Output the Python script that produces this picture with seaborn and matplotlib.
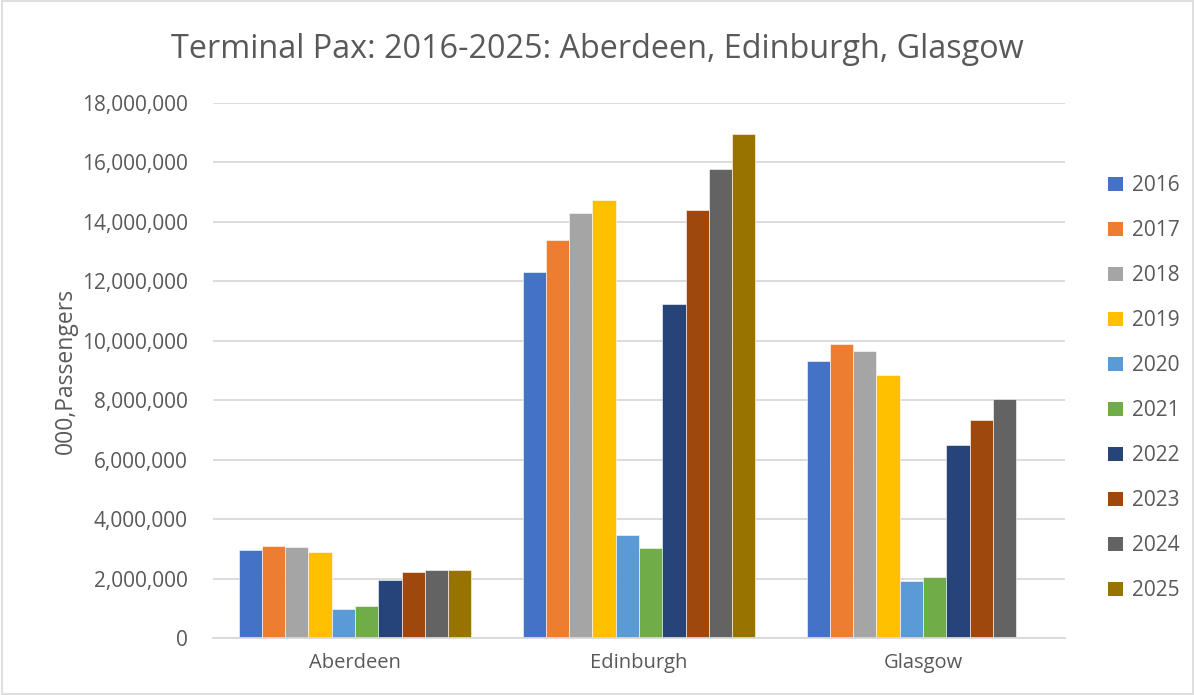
import numpy as np
import pandas as pd
import matplotlib
matplotlib.use("Agg")
import matplotlib.pyplot as plt
from matplotlib.patches import Patch, Rectangle
import seaborn as sns

airports = ["Aberdeen", "Edinburgh", "Glasgow"]
years = ["2016", "2017", "2018", "2019", "2020", "2021", "2022", "2023", "2024", "2025"]
aberdeen = [2950000, 3100000, 3060000, 2900000, 970000, 1070000, 1950000, 2220000, 2300000, 2300000]
edinburgh = [12330000, 13400000, 14290000, 14730000, 3460000, 3020000, 11230000, 14390000, 15770000, 16950000]
glasgow = [9310000, 9880000, 9650000, 8840000, 1930000, 2040000, 6490000, 7350000, 8040000, np.nan]
colors = ["#4472C4", "#ED7D31", "#A5A5A5", "#FFC000", "#5B9BD5",
          "#70AD47", "#264478", "#9E480E", "#636363", "#997300"]

rows = []
for ap, vals in zip(airports, [aberdeen, edinburgh, glasgow]):
    for y, v in zip(years, vals):
        rows.append({"Airport": ap, "Year": y, "Passengers": v})
df = pd.DataFrame(rows)

sns.set_theme(style="white")
plt.rcParams['font.family'] = ['Open Sans', 'DejaVu Sans']
text_color = "#595959"

fig = plt.figure(figsize=(11.95, 6.95), dpi=100)
ax = fig.add_axes([213/1195, 57/695, 852/1195, 535/695])

sns.barplot(data=df, x="Airport", y="Passengers", hue="Year", order=airports,
            hue_order=years, palette=colors, width=0.82, gap=0, ax=ax,
            edgecolor="white", linewidth=0.4, legend=False, errorbar=None,
            saturation=1)

ax.set_ylim(0, 18000000)
ax.set_xlim(-0.5, 2.5)
ax.set_yticks(np.arange(0, 18000001, 2000000))
ax.yaxis.set_major_formatter(matplotlib.ticker.FuncFormatter(lambda v, p: f"{int(v):,}"))
ax.grid(axis="y", color="#D9D9D9", linewidth=1.3)
ax.set_axisbelow(True)
for s in ["top", "right", "left"]:
    ax.spines[s].set_visible(False)
ax.spines["bottom"].set_color("#D9D9D9")
ax.spines["bottom"].set_linewidth(1.3)
ax.tick_params(axis="y", length=0, labelsize=15, labelcolor=text_color, pad=18)
ax.tick_params(axis="x", length=0, labelsize=14.5, labelcolor=text_color, pad=11)
# category boundary ticks
ax.set_xticks([-0.5, 0.5, 1.5, 2.5], minor=True)
ax.tick_params(axis="x", which="minor", length=6, color="#D9D9D9", width=1.3)
ax.set_xlabel("")
ax.set_ylabel("000,Passengers", fontsize=16.5, color=text_color, labelpad=3)

fig.text(0.5, 1 - 50/695, "Terminal Pax: 2016-2025: Aberdeen, Edinburgh, Glasgow",
         ha="center", va="center", fontsize=23.3, color=text_color)

handles = [Patch(facecolor=c, edgecolor="none", label=y) for c, y in zip(colors, years)]
fig.legend(handles=handles, loc="upper left", bbox_to_anchor=(1098/1195, 1 - 165/695),
           frameon=False, fontsize=15, labelcolor=text_color, handlelength=0.68,
           handleheight=0.68, handletextpad=0.45, labelspacing=1.15, borderpad=0)

fig.patches.append(Rectangle((0.002, 0.002), 0.996, 0.996, transform=fig.transFigure,
                             fill=False, edgecolor="#D9D9D9", linewidth=1.2))

fig.savefig("out.png", dpi=100)
